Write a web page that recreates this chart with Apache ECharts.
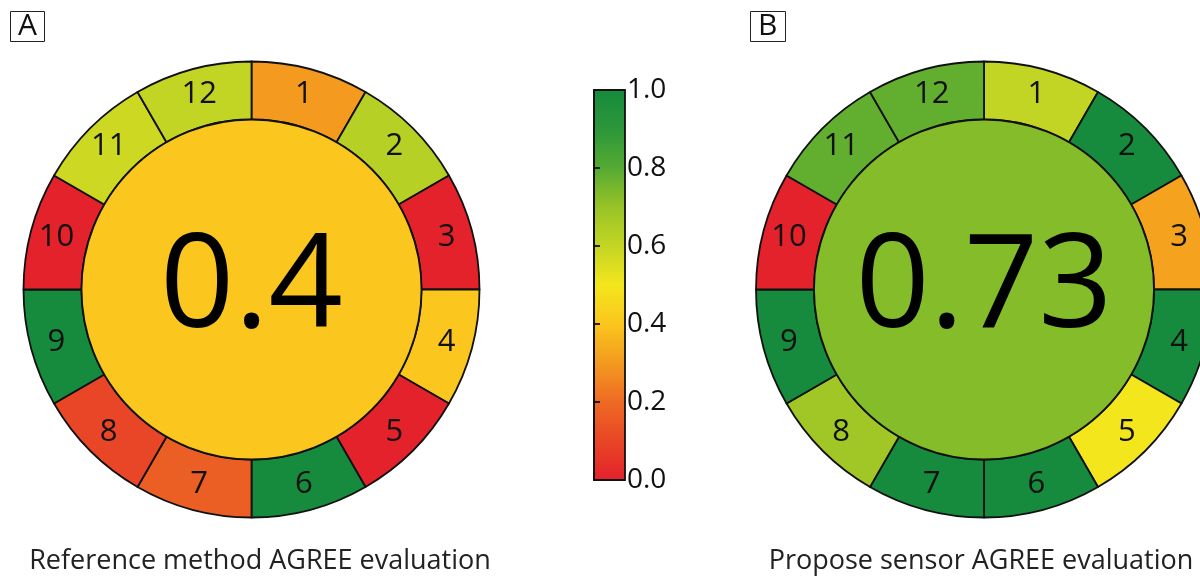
<!DOCTYPE html>
<html>
<head>
<meta charset="utf-8">
<script src="https://cdn.jsdelivr.net/npm/echarts@6/dist/echarts.min.js"></script>
<style>
html,body{margin:0;padding:0;background:#fff;}
#chart{width:1200px;height:579px;}
</style>
</head>
<body>
<div id="chart"></div>
<script>
// ---- data ----
const segmentLabels = ['1','2','3','4','5','6','7','8','9','10','11','12'];
const scoresA = [0.30, 0.63, 0.00, 0.40, 0.00, 1.00, 0.17, 0.10, 1.00, 0.00, 0.58, 0.60];
const scoresB = [0.60, 1.00, 0.32, 1.00, 0.50, 1.00, 1.00, 0.68, 1.00, 0.00, 0.78, 0.78];
const overallA = 0.4;
const overallB = 0.73;
const panelLetters = ['A', 'B'];
const panelCaptions = ['Reference method AGREE evaluation', 'Propose sensor AGREE evaluation'];
const colorbarTicks = [0, 0.2, 0.4, 0.6, 0.8, 1.0];
const colormap = ['#E3222B','#E84626','#EE6A23','#F39A1F','#FBC61D','#F4E61C','#C3D524','#98C426','#55AA33','#2C973A','#168A3D'];

// ---- build ----
const FONT = 'Open Sans';
const rows = (scores) => scores.map((s, i) => [segmentLabels[i], 1, s]);
const centerRow = (v) => [[String(v), 1, v]];

const ringBase = {
  type: 'pie',
  radius: [170, 228],
  startAngle: 90,
  clockwise: true,
  silent: true,
  animation: false,
  avoidLabelOverlap: false,
  encode: { itemName: 0, value: 1 },
  label: { show: true, position: 'inside', formatter: '{b}', fontSize: 31, color: '#111', fontFamily: FONT },
  labelLine: { show: false },
  itemStyle: { borderColor: '#111', borderWidth: 1.8 },
  emphasis: { disabled: true }
};
const centerBase = {
  type: 'pie',
  radius: [0, 170],
  silent: true,
  animation: false,
  encode: { itemName: 0, value: 1 },
  label: { show: true, position: 'center', formatter: '{b}', fontSize: 130, color: '#000', fontFamily: FONT },
  labelLine: { show: false },
  itemStyle: { borderColor: '#111', borderWidth: 1.8 },
  emphasis: { disabled: true }
};
const centers = [[251.5, 289.5], [984, 289.5]];

const letterStyle = { fontSize: 30, fontWeight: 'normal', color: '#111', fontFamily: FONT, lineHeight: 31 };
const captionStyle = { fontSize: 27, fontWeight: 'normal', color: '#222', fontFamily: FONT };

const option = {
  backgroundColor: '#fff',
  animation: false,
  dataset: [
    { source: rows(scoresA) },
    { source: rows(scoresB) },
    { source: centerRow(overallA) },
    { source: centerRow(overallB) }
  ],
  title: [
    { text: panelLetters[0], left: 10, top: 11, padding: [0, 8, 0, 8], borderColor: '#222', borderWidth: 1, textStyle: letterStyle },
    { text: panelLetters[1], left: 750, top: 11, padding: [0, 8, 0, 8], borderColor: '#222', borderWidth: 1, textStyle: letterStyle },
    { text: panelCaptions[0], left: 255, top: 543, textAlign: 'center', textStyle: captionStyle },
    { text: panelCaptions[1], left: 976, top: 543, textAlign: 'center', textStyle: captionStyle }
  ],
  visualMap: {
    type: 'continuous',
    min: 0, max: 1,
    dimension: 2,
    seriesIndex: [0, 1, 2, 3],
    inRange: { color: colormap },
    calculable: false,
    realtime: false,
    text: null,
    showLabel: false,
    left: 594, top: 90,
    padding: 0,
    itemWidth: 31,
    itemHeight: 390,
    hoverLink: false
  },
  grid: { left: 594, top: 90, width: 31, height: 390, show: true, borderColor: '#111', borderWidth: 1.8,
          backgroundColor: 'transparent', z: 10 },
  xAxis: { type: 'value', min: 0, max: 1, show: false },
  yAxis: {
    type: 'value', min: colorbarTicks[0], max: colorbarTicks[colorbarTicks.length - 1], interval: 0.2,
    position: 'right', z: 10,
    axisLine: { show: true, lineStyle: { color: '#111', width: 1.8 } },
    axisTick: { show: true, length: 6, lineStyle: { color: '#111', width: 1.8 } },
    splitLine: { show: false },
    axisLabel: { margin: 2, fontSize: 28, color: '#111', fontFamily: FONT, formatter: (v) => v.toFixed(1) }
  },
  series: [
    Object.assign({}, ringBase, { datasetIndex: 0, center: centers[0] }),
    Object.assign({}, ringBase, { datasetIndex: 1, center: centers[1] }),
    Object.assign({}, centerBase, { datasetIndex: 2, center: centers[0] }),
    Object.assign({}, centerBase, { datasetIndex: 3, center: centers[1] })
  ]
};

const chart = echarts.init(document.getElementById('chart'), null, { renderer: 'canvas' });
chart.setOption(option);
</script>
</body>
</html>
